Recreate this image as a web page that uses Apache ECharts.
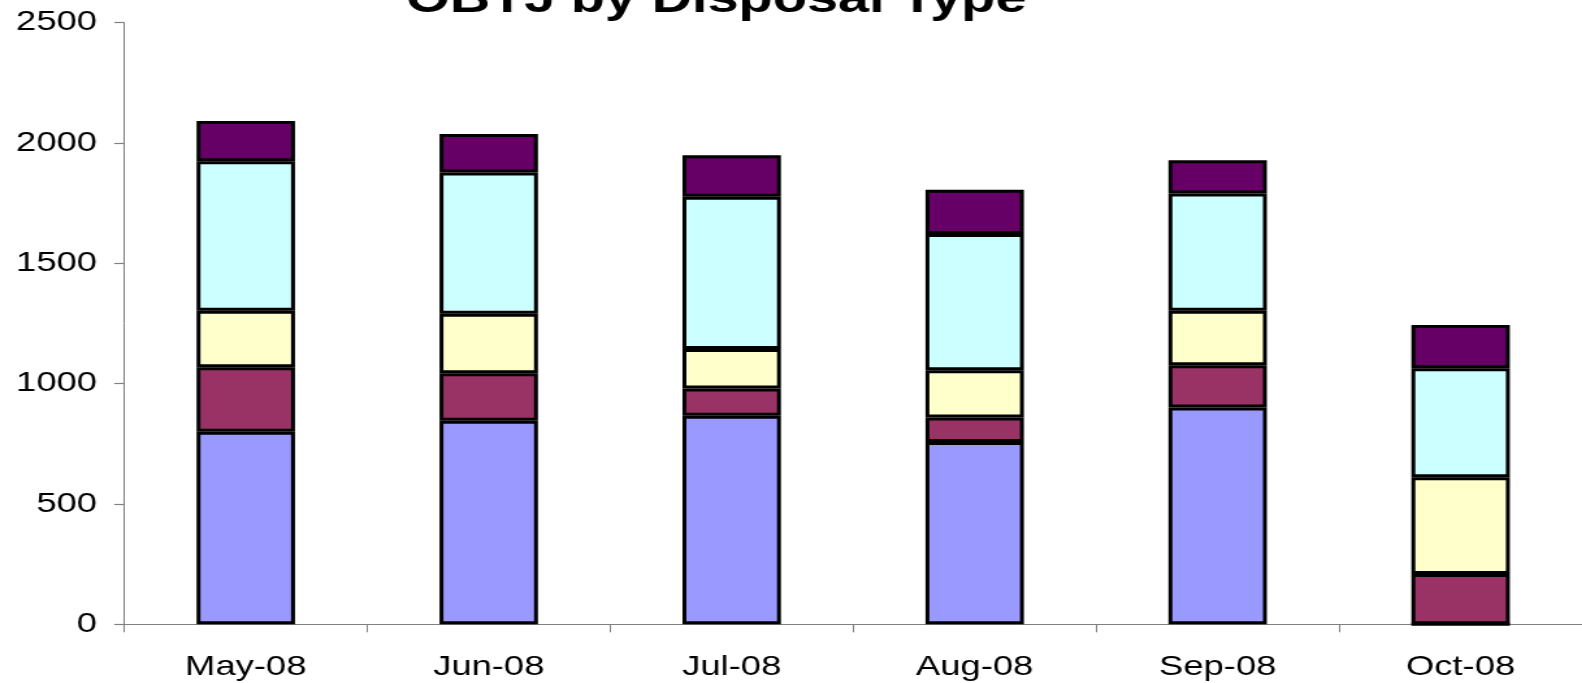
<!DOCTYPE html>
<html>
<head>
<meta charset="utf-8">
<script src="https://cdn.jsdelivr.net/npm/echarts@6/dist/echarts.min.js"></script>
<style>
html,body{margin:0;padding:0;background:#fff;overflow:hidden;}
#wrap{width:1582px;height:683px;overflow:hidden;position:relative;}
#chart{width:1217px;height:683px;transform:scaleX(1.3);transform-origin:0 0;}
</style>
</head>
<body>
<div id="wrap"><div id="chart"></div></div>
<script>
const categories = ["May-08", "Jun-08", "Jul-08", "Aug-08", "Sep-08", "Oct-08"];
const series1 = [800, 846, 867, 758, 901, 0];
const series2 = [268, 197, 113, 101, 176, 209];
const series3 = [235, 248, 164, 197, 226, 402];
const series4 = [621, 587, 633, 566, 487, 453];
const series5 = [167, 159, 172, 184, 138, 180];
const seriesNames = ["Series1", "Series2", "Series3", "Series4", "Series5"];
const seriesColors = ["#9999FF", "#993366", "#FFFFCC", "#CCFFFF", "#660066"];
const yTicks = { min: 0, max: 2500, interval: 500 };
const titleText = "OBTJ by Disposal Type";

const allData = [series1, series2, series3, series4, series5];
const chart = echarts.init(document.getElementById('chart'), null, { renderer: 'canvas' });
const font = '"Liberation Sans", Arial, sans-serif';
chart.setOption({
  animation: false,
  backgroundColor: '#ffffff',
  graphic: [{
    type: 'text',
    x: 551, y: 0,
    style: {
      text: titleText,
      font: 'bold 43px "Liberation Sans", Arial, sans-serif',
      fill: '#000',
      align: 'center',
      verticalAlign: 'middle'
    }
  }],
  grid: { left: 95.6, right: 0, top: 22.7, bottom: 58.7, containLabel: false },
  xAxis: {
    type: 'category',
    data: categories,
    axisLine: { lineStyle: { color: '#808080', width: 1.2 } },
    axisTick: { show: true, length: 8, lineStyle: { color: '#808080', width: 1 } },
    axisLabel: { color: '#000', fontFamily: font, fontSize: 28, margin: 29 }
  },
  yAxis: {
    type: 'value',
    min: yTicks.min, max: yTicks.max, interval: yTicks.interval,
    splitLine: { show: false },
    axisLine: { show: true, lineStyle: { color: '#808080', width: 1 } },
    axisTick: { show: true, length: 7.7, lineStyle: { color: '#808080', width: 1.2 } },
    axisLabel: { color: '#000', fontFamily: font, fontSize: 28, margin: 21, formatter: v => String(v) }
  },
  series: allData.map((d, i) => ({
    name: seriesNames[i],
    type: 'bar',
    stack: 'total',
    barWidth: '40.5%',
    data: d,
    itemStyle: { color: seriesColors[i], borderColor: '#000', borderWidth: 3 }
  }))
});
</script>
</body>
</html>
